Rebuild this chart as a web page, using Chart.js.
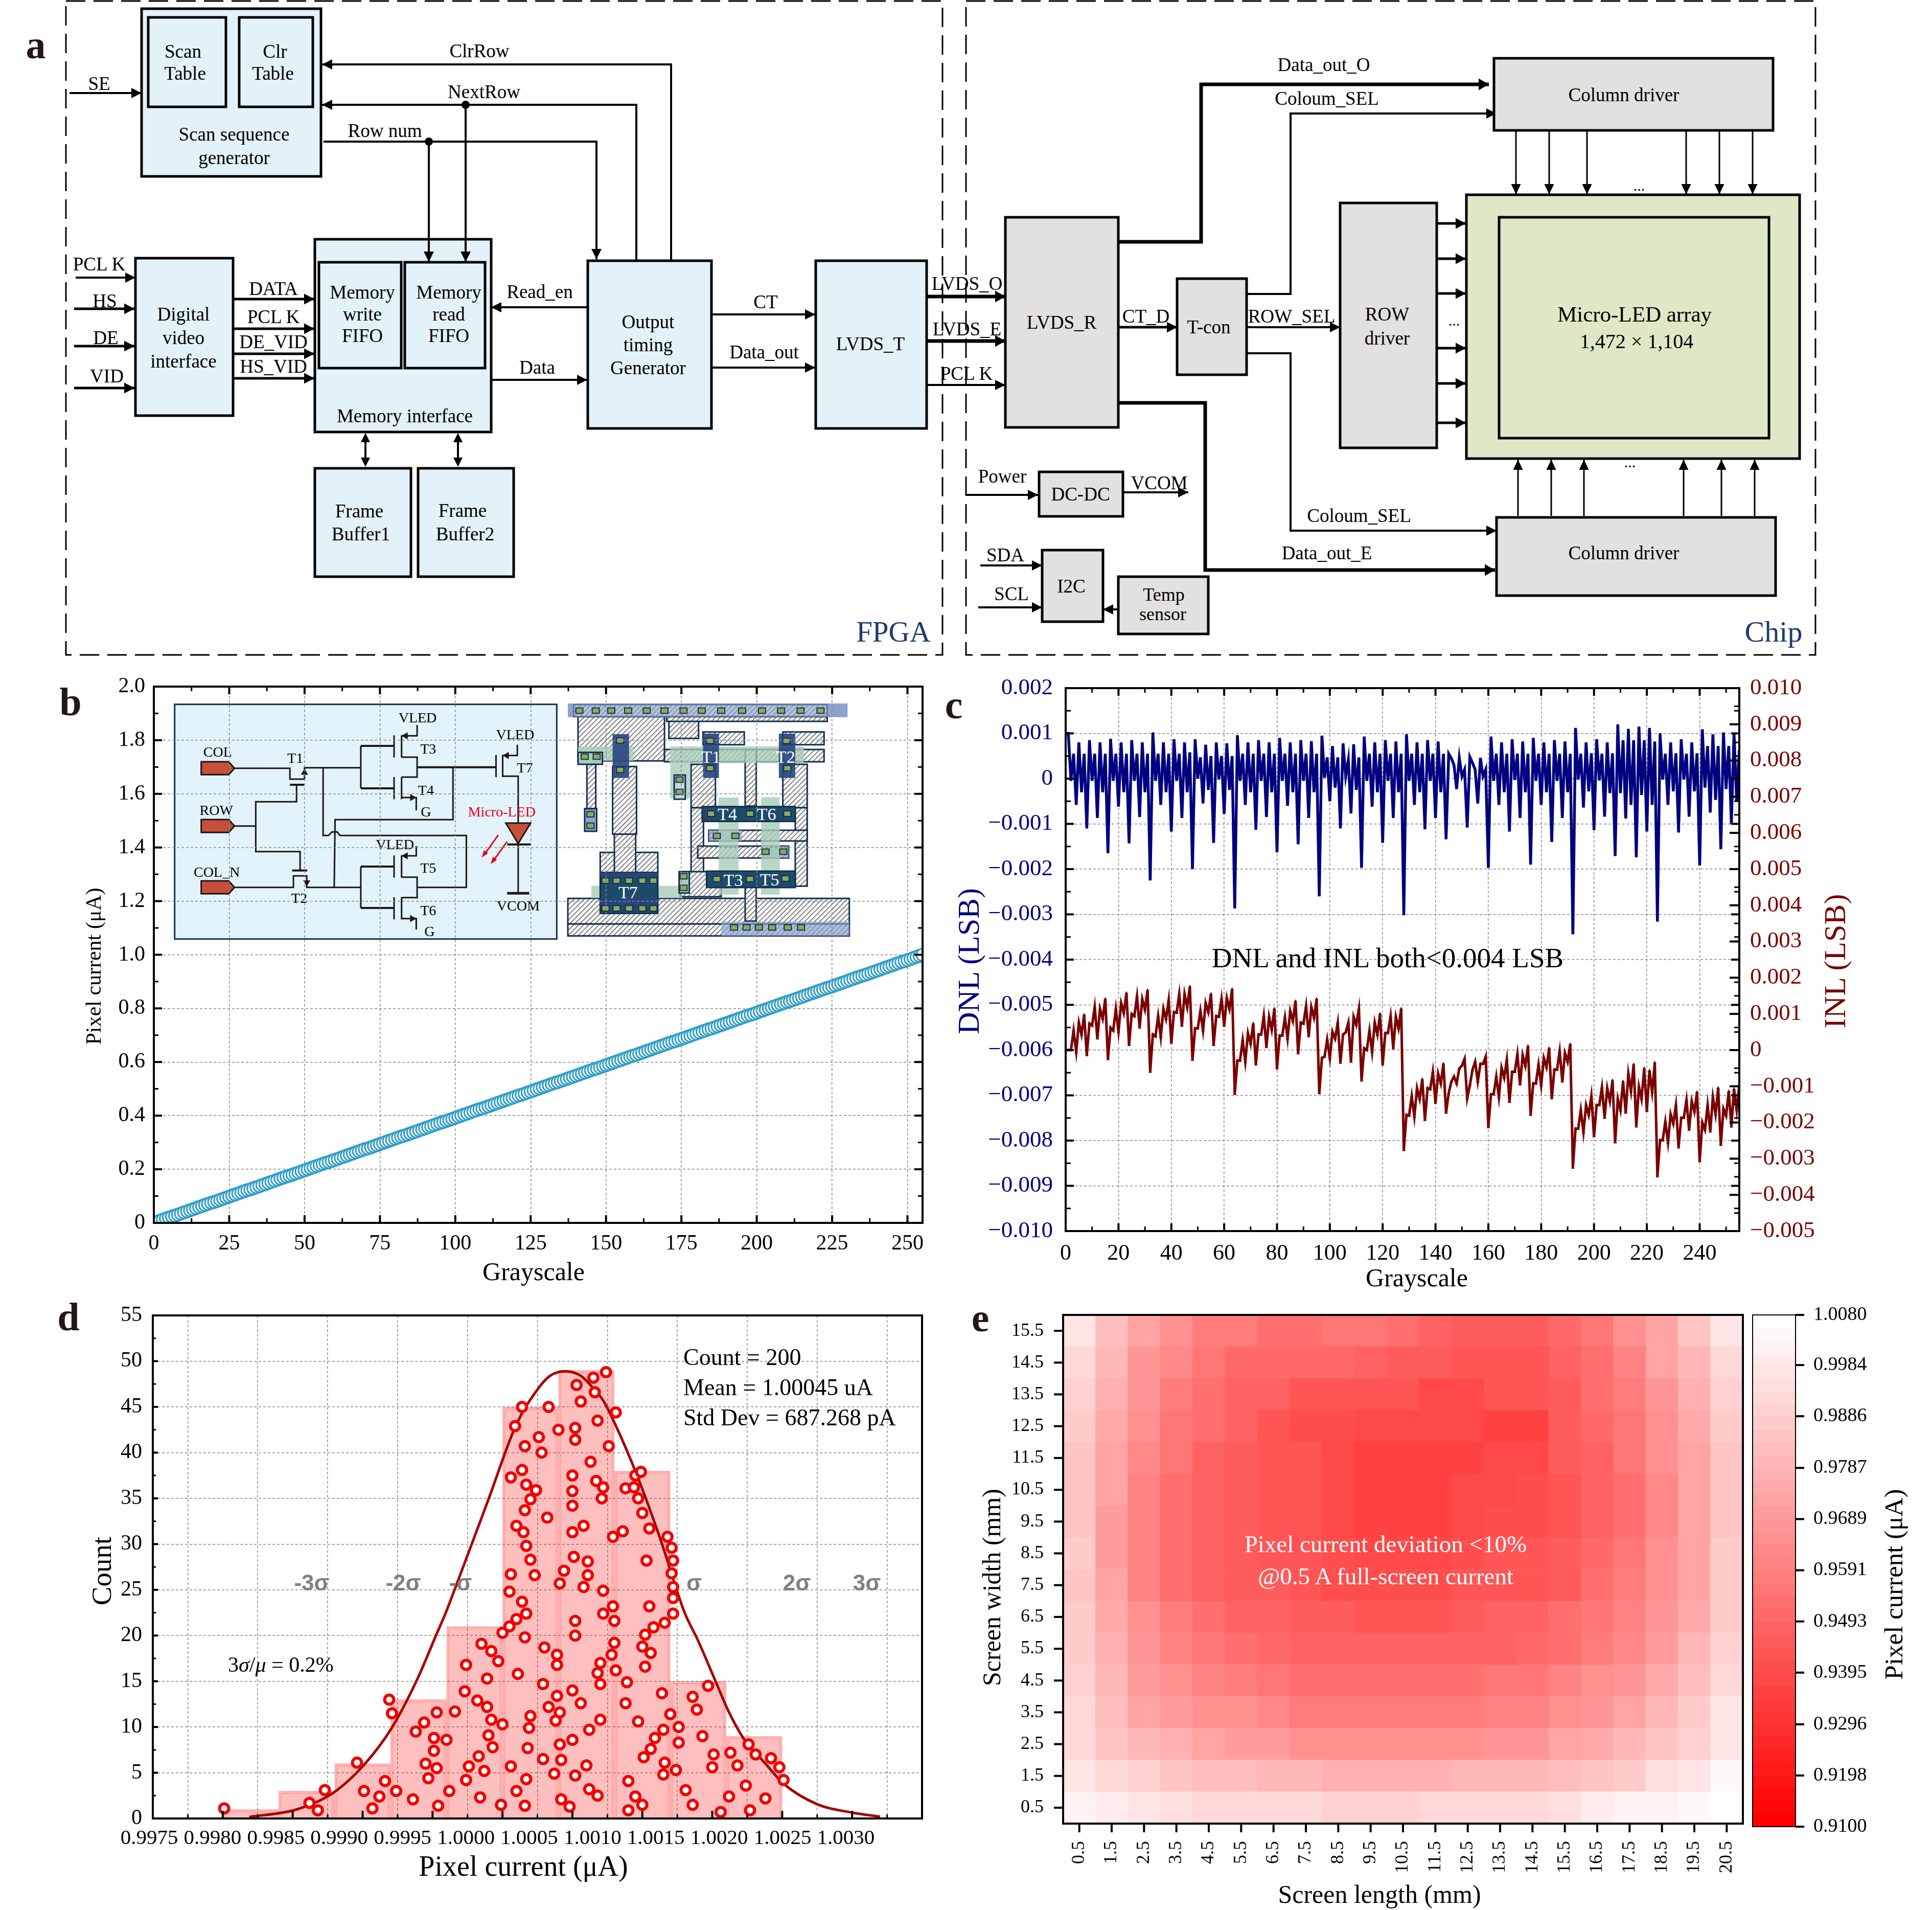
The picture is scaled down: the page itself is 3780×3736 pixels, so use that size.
<!DOCTYPE html>
<html>
<head>
<meta charset="utf-8">
<title>Micro-LED driver figure</title>
<script src="https://cdn.jsdelivr.net/npm/chart.js@4"></script>
<style>
  html, body { margin: 0; padding: 0; background: #fff; }
  #page { position: relative; width: 3780px; height: 3736px; overflow: hidden; background: #fff; }
  #page svg, #page canvas { position: absolute; left: 0; top: 0; }
</style>
</head>
<body>
<div id="page">
  <svg id="back" width="3780" height="3736"></svg>
  <canvas id="chartB"></canvas>
  <canvas id="chartC"></canvas>
  <canvas id="chartD"></canvas>
  <canvas id="chartE"></canvas>
  <canvas id="chartBar"></canvas>
  <svg id="front" width="3780" height="3736"></svg>
</div>
<script>
// panel b
const bXTicks = [0, 25, 50, 75, 100, 125, 150, 175, 200, 225, 250];
const bYTicks = [0, 0.2, 0.4, 0.6, 0.8, 1.0, 1.2, 1.4, 1.6, 1.8, 2.0];
const bYLabels = ['0', '0.2', '0.4', '0.6', '0.8', '1.0', '1.2', '1.4', '1.6', '1.8', '2.0'];
const pixelCurrent = [
  0, .004, .008, .012, .016, .020, .024, .027, .031, .035, .039, .043, .047, .051, .055, .059, .063, .067, .071, .075, .078, .082, .086, .090, .094,
  .098, .102, .106, .110, .114, .118, .122, .125, .129, .133, .137, .141, .145, .149, .153, .157, .161, .165, .169, .173, .176, .180, .184, .188, .192,
  .196, .200, .204, .208, .212, .216, .220, .224, .227, .231, .235, .239, .243, .247, .251, .255, .259, .263, .267, .271, .275, .278, .282, .286, .290,
  .294, .298, .302, .306, .310, .314, .318, .322, .325, .329, .333, .337, .341, .345, .349, .353, .357, .361, .365, .369, .373, .376, .380, .384, .388,
  .392, .396, .400, .404, .408, .412, .416, .420, .424, .427, .431, .435, .439, .443, .447, .451, .455, .459, .463, .467, .471, .475, .478, .482, .486,
  .490, .494, .498, .502, .506, .510, .514, .518, .522, .525, .529, .533, .537, .541, .545, .549, .553, .557, .561, .565, .569, .573, .576, .580, .584,
  .588, .592, .596, .600, .604, .608, .612, .616, .620, .624, .627, .631, .635, .639, .643, .647, .651, .655, .659, .663, .667, .671, .675, .678, .682,
  .686, .690, .694, .698, .702, .706, .710, .714, .718, .722, .725, .729, .733, .737, .741, .745, .749, .753, .757, .761, .765, .769, .773, .776, .780,
  .784, .788, .792, .796, .800, .804, .808, .812, .816, .820, .824, .827, .831, .835, .839, .843, .847, .851, .855, .859, .863, .867, .871, .875, .878,
  .882, .886, .890, .894, .898, .902, .906, .910, .914, .918, .922, .925, .929, .933, .937, .941, .945, .949, .953, .957, .961, .965, .969, .973, .976,
  .980, .984, .988, .992, .996, 1.0
];

// panel c, values in 0.001 LSB
const cXTicks = [0, 20, 40, 60, 80, 100, 120, 140, 160, 180, 200, 220, 240];
const dnlTicks = [-.010, -.009, -.008, -.007, -.006, -.005, -.004, -.003, -.002, -.001, 0, .001, .002];
const dnlLabels = ['\u22120.010', '\u22120.009', '\u22120.008', '\u22120.007', '\u22120.006', '\u22120.005', '\u22120.004', '\u22120.003', '\u22120.002', '\u22120.001', '0', '0.001', '0.002'];
const inlTicks = [-.005, -.004, -.003, -.002, -.001, 0, .001, .002, .003, .004, .005, .006, .007, .008, .009, .010];
const inlLabels = ['\u22120.005', '\u22120.004', '\u22120.003', '\u22120.002', '\u22120.001', '0', '0.001', '0.002', '0.003', '0.004', '0.005', '0.006', '0.007', '0.008', '0.009', '0.010'];
const dnlMilli = [
  1.0, 1.0, -.05, .55, -.58, .8, -.3, .55,
  -1.1, .85, -.05, .55, -.87, .8, -.3, .55,
  -1.65, .88, -.05, .55, -.62, .8, -.3, .55,
  -1.43, .85, -.05, .55, -.85, .8, -.3, .55,
  -2.25, 1.02, -.05, .55, -.58, .8, -.3, .55,
  -1.17, .87, -.05, .55, -.87, .8, -.3, .58,
  -2.0, .87, 0, .47, -.55, .75, -.25, .5,
  -1.42, .8, -.02, .5, -.78, .78, -.25, .5,
  -2.87, .96, -.05, .55, -.58, .8, -.3, .55,
  -1.13, .85, -.05, .55, -.85, .8, -.3, .55,
  -1.63, .9, -.05, .55, -.6, .8, -.3, .55,
  -1.45, .85, -.05, .55, -.87, .83, -.3, .55,
  -2.6, .95, .02, .47, -.5, .72, -.2, .47,
  -1.1, .78, .05, .42, -.77, .76, -.25, .47,
  -1.97, .93, -.05, .55, -.62, .8, -.3, .55,
  -1.42, .85, -.05, .55, -.87, .82, -.3, .55,
  -3.02, .98, -.05, .55, -.58, .8, -.3, .55,
  -1.12, .85, -.05, .55, -.87, .82, -.3, .55,
  -1.34, .55, .45, .3, -.23, .46, .05, .2,
  -1.08, .48, .35, .2, -.55, .46, .05, .2,
  -1.97, .93, -.05, .55, -.58, .8, -.3, .55,
  -1.17, .87, -.03, .55, -.87, .82, -.3, .55,
  -1.9, .9, -.05, .55, -.58, .8, -.3, .55,
  -1.4, .85, -.05, .55, -.87, .82, -.3, .55,
  -3.44, 1.12, -.02, .55, -.64, .8, -.28, .56,
  -1.14, .87, -.04, .55, -.84, .8, -.32, .56,
  -1.71, 1.2, -.32, .85, -.88, 1.1, -.58, .85,
  -1.74, 1.15, -.36, .85, -1.17, 1.12, -.58, .82,
  -3.16, 1.0, -.02, .55, -.58, .8, -.28, .56,
  -1.19, .87, -.02, .55, -.84, .8, -.28, .56,
  -1.92, 1.09, -.2, .72, -.75, .98, -.47, .72,
  -1.56, 1.02, -.23, .72, -1.0, 1.0, -.49, .63
];
const inlMilli = [
  0, 0, 0, .54, -.05, .76, .43, .97,
  -.14, .73, .68, 1.19, .32, 1.14, .87, 1.41,
  -.25, .62, .54, 1.14, .51, 1.3, 1.03, 1.57,
  .14, 1.0, .94, 1.48, .62, 1.41, 1.12, 1.65,
  -.6, .43, .38, .94, .36, 1.14, .86, 1.38,
  .2, 1.05, 1.03, 1.55, .67, 1.55, 1.19, 1.75,
  -.27, .6, .6, 1.08, .54, 1.3, 1.05, 1.55,
  .14, .94, .92, 1.41, .67, 1.44, 1.14, 1.68,
  -1.21, -.29, -.29, .27, -.32, .47, .18, .73,
  -.4, .43, .43, .94, .08, .92, .56, 1.14,
  -.51, .4, .4, .9, .32, 1.08, .81, 1.35,
  -.09, .76, .73, 1.22, .38, 1.19, .9, 1.41,
  -1.19, -.22, -.18, .29, -.22, .51, .32, .76,
  -.35, .43, .49, .76, -.32, .92, .7, 1.14,
  -.84, .05, 0, .54, -.05, .76, .43, 1.0,
  -.4, .47, .47, .94, .05, .92, .6, 1.14,
  -2.76, -1.79, -1.81, -1.27, -1.84, -1.05, -1.35, -.81,
  -1.93, -1.05, -1.08, -.6, -1.46, -.65, -.92, -.38,
  -1.73, -1.19, -.87, -.73, -.92, -.51, -.43, -.24,
  -1.33, -.97, -.54, -.32, -.87, -.38, -.38, -.18,
  -2.13, -1.22, -1.22, -.73, -1.3, -.49, -.76, -.27,
  -1.43, -.6, -.6, -.11, -.95, -.14, -.43, .11,
  -1.79, -.92, -.92, -.4, -.97, -.22, -.47, .05,
  -1.33, -.54, -.54, -.03, -.87, -.08, -.32, .16,
  -3.25, -2.17, -2.17, -1.66, -2.27, -1.52, -1.79, -1.27,
  -2.38, -1.52, -1.52, -1.03, -1.87, -1.05, -1.41, -.84,
  -2.55, -1.35, -1.66, -.87, -1.73, -.65, -1.14, -.4,
  -2.11, -1.01, -1.35, -.51, -1.68, -.57, -1.16, -.35,
  -3.49, -2.49, -2.49, -1.98, -2.55, -1.77, -2.03, -1.52,
  -2.69, -1.87, -1.87, -1.38, -2.2, -1.41, -1.7, -1.16,
  -3.07, -2.0, -2.2, -1.52, -2.25, -1.3, -1.77, -1.05,
  -2.62, -1.62, -1.81, -1.14, -2.11, -1.08, -1.66, -.97
];

// panel d
const dXTicks = [.9975, .998, .9985, .999, .9995, 1.0, 1.0005, 1.001, 1.0015, 1.002, 1.0025, 1.003];
const dXLabels = ['0.9975', '0.9980', '0.9985', '0.9990', '0.9995', '1.0000', '1.0005', '1.0010', '1.0015', '1.0020', '1.0025', '1.0030'];
const dYTicks = [0, 5, 10, 15, 20, 25, 30, 35, 40, 45, 50, 55];
const binCenters = [.9982, .9986, .999, .9994, .9998, 1.0002, 1.0006, 1.001, 1.0014, 1.0018];
const binCounts = [1, 3, 6, 13, 21, 45, 49, 38, 15, 9];
const fitX = [.99819, .99852, .99878, .99901, .99921, .99939, .99953, .9996, .99966, .9999, 1.0001, 1.00025, 1.00034, 1.00045, 1.00056, 1.00064, 1.00072, 1.0008, 1.00096, 1.00113, 1.0013, 1.0014, 1.00151, 1.00162, 1.00173, 1.00188, 1.00201, 1.00225, 1.0025, 1.0027];
const fitY = [.17, .95, 2.7, 5.86, 9.94, 15.2, 20.2, 22.7, 25.1, 34.9, 43.1, 46.9, 48.4, 48.9, 48.4, 47.2, 45.7, 43.3, 37.6, 30.5, 22.6, 19.4, 15.5, 11.6, 8.6, 6.0, 3.8, 1.56, .64, .2];
const dotX = [
  .99801, .99862, .99868, .99873, .99896, .99901, .99907, .99912, .99916, .99919, .99921, .99924, .99936, .99938, .99944, .99945, .99947, .99951, .99951, .99953, .99953, .99954, .9996, .99962, .99966,
  .99973, .99974, .99974, .99976, .99982, .99983, .99984, .99985, .99987, .99989, .99989, .9999, .99992, .99992, .99993, .99997, .99999, 1.0, 1.0,
  1.00005, 1.00006, 1.00006, 1.00005, 1.00006, 1.00009, 1.0001, 1.0001, 1.0001, 1.00011, 1.00014, 1.00014, 1.00014, 1.00015, 1.00016, 1.00016, 1.00016, 1.00016, 1.00017, 1.00017, 1.00017, 1.00017, 1.00018, 1.00019, 1.0002, 1.0002, 1.0002, 1.00023, 1.00024, 1.00026, 1.00028, 1.00029, 1.00029, 1.0003, 1.00032, 1.00033, 1.00033, 1.00037, 1.00038, 1.00039, 1.00039, 1.00039, 1.0004, 1.00041, 1.00041, 1.00041, 1.00042, 1.00042, 1.00044,
  1.00048, 1.0005, 1.0005, 1.0005, 1.0005, 1.0005, 1.0005, 1.00051, 1.00052, 1.00052, 1.00052, 1.00052, 1.00052, 1.00053, 1.00056, 1.00056, 1.00058, 1.00058, 1.0006, 1.00061, 1.00061, 1.00062, 1.00062, 1.00063, 1.00065, 1.00066, 1.00067, 1.00068, 1.00068, 1.00068, 1.0007, 1.0007, 1.0007, 1.00071, 1.00072, 1.00072, 1.00072, 1.00074, 1.00076, 1.00078, 1.00079, 1.00079, 1.0008, 1.0008, 1.00081, 1.00081,
  1.00086, 1.00088, 1.00088, 1.00089, 1.0009, 1.0009, 1.00094, 1.00095, 1.00095, 1.00097, 1.00097, 1.00099, 1.001, 1.001, 1.001, 1.00101, 1.00102, 1.00102, 1.00103, 1.00105, 1.00105, 1.00106, 1.00106, 1.00108, 1.00109, 1.00114, 1.00115, 1.00115, 1.00116, 1.00116, 1.00118, 1.0012, 1.00121, 1.00121, 1.00122, 1.00122, 1.00122, 1.00122, 1.00124, 1.00126, 1.00126, 1.00131, 1.00136, 1.00136, 1.00139, 1.00143, 1.00147, 1.0015, 1.00151, 1.00156, 1.00162, 1.00163, 1.00168, 1.00174, 1.00176, 1.00177, 1.00181, 1.00188, 1.00192, 1.00198, 1.00201
];
const dotY = [
  1.1, 1.7, .9, 3.1, 6.1, 3.0, 1.1, 2.4, 4.1, 13.0, 11.5, 3.0, 2.1, 9.5, 10.5, 6.0, 4.4, 8.8, 7.4, 11.6, 5.5, 1.4, 8.6, 3.0, 11.7,
  13.9, 16.8, 4.2, 5.7, 12.9, 6.8, 2.3, 19.1, 5.2, 15.3, 12.2, 9.1, 18.3, 10.8, 7.8, 17.2, 1.5, 10.3, 20.3,
  21.0, 37.3, 26.7, 24.8, 5.7, 42.9, 32.0, 21.8, 3.0, 15.8, 45.0, 38.1, 23.7, 31.3, 40.7, 33.7, 19.8, 1.4, 36.5, 29.8, 22.4, 4.3, 7.7, 9.9, 34.9, 28.3, 11.2, 26.6, 35.9, 41.7, 40.0, 14.7, 6.5, 18.7, 32.9, 45.0, 12.2, 4.9, 10.7, 16.8, 13.4, 17.9, 42.5, 11.6, 25.7, 8.1, 2.1, 6.4, 27.1,
  1.3, 37.5, 35.8, 34.2, 31.3, 14.0, 8.6, 28.6, 21.6, 20.0, 4.7, 42.7, 41.4, 47.4, 45.6, 12.6, 32.0, 25.3, 5.8, 28.1, 26.6, 3.2, 9.7, 39.0, 48.2, 46.6, 36.9, 43.5, 15.9, 2.5, 17.0, 14.7, 10.8, 35.0, 22.4, 36.2, 24.9, 48.8, 40.7, 17.9, 30.8, 23.2, 21.6, 19.2, 16.2, 44.4,
  31.4, 36.1, 12.6, 14.9, 4.1, .9, 36.2, 37.5, 2.4, 10.6, 35.0, 37.9, 33.4, 18.8, 1.5, 6.7, 20.1, 16.6, 28.2, 31.7, 23.2, 7.6, 18.1, 20.9, 8.8, 13.7, 9.7, 4.8, 21.4, 6.1, 30.8, 11.4, 29.6, 26.8, 28.2, 24.1, 25.3, 22.4, 5.3, 10.0, 8.3, 3.1, 13.3, 1.5, 11.9, 9.0, 14.5, 5.6, 7.0, .7, 2.4, 7.2, 5.8, 3.6, 8.1, .9, 7.0, 2.2, 6.6, 5.6, 4.2
];

// panel e, rows listed from 15.5 mm down to 0.5 mm
const lengthLabels = ['0.5', '1.5', '2.5', '3.5', '4.5', '5.5', '6.5', '7.5', '8.5', '9.5', '10.5', '11.5', '12.5', '13.5', '14.5', '15.5', '16.5', '17.5', '18.5', '19.5', '20.5'];
const widthTicks = [.5, 1.5, 2.5, 3.5, 4.5, 5.5, 6.5, 7.5, 8.5, 9.5, 10.5, 11.5, 12.5, 13.5, 14.5, 15.5];
const heatValues = [
  [.996, .983, .972, .964, .958, .958, .954, .952, .956, .956, .954, .948, .946, .945, .945, .950, .956, .964, .973, .985, .998],
  [.993, .979, .968, .962, .956, .950, .950, .950, .950, .947, .945, .945, .942, .942, .942, .948, .952, .960, .972, .979, .993],
  [.990, .977, .968, .958, .954, .949, .947, .944, .944, .942, .942, .938, .938, .942, .942, .945, .952, .958, .968, .977, .990],
  [.988, .975, .964, .956, .952, .949, .944, .940, .940, .938, .938, .938, .938, .936, .936, .945, .950, .956, .966, .975, .988],
  [.985, .972, .962, .956, .949, .945, .944, .942, .938, .936, .936, .936, .936, .938, .938, .945, .948, .956, .964, .973, .985],
  [.984, .972, .960, .954, .949, .945, .944, .942, .938, .936, .936, .936, .938, .938, .940, .944, .949, .954, .962, .972, .985],
  [.984, .970, .960, .954, .947, .945, .944, .942, .938, .935, .935, .935, .938, .940, .940, .944, .949, .954, .962, .972, .984],
  [.986, .970, .960, .954, .949, .945, .944, .942, .940, .938, .938, .938, .940, .942, .942, .945, .950, .956, .964, .973, .986],
  [.985, .973, .960, .954, .949, .945, .945, .942, .940, .940, .940, .940, .942, .944, .944, .945, .952, .958, .966, .973, .986],
  [.986, .974, .964, .958, .952, .947, .947, .945, .945, .942, .942, .942, .945, .948, .948, .952, .955, .960, .968, .975, .988],
  [.987, .977, .968, .960, .956, .952, .950, .949, .949, .949, .949, .949, .949, .949, .951, .954, .958, .962, .970, .979, .990],
  [.990, .979, .970, .964, .960, .958, .956, .954, .952, .952, .952, .952, .954, .956, .956, .960, .964, .968, .975, .983, .993],
  [.992, .982, .973, .970, .966, .964, .962, .958, .958, .958, .958, .958, .958, .960, .960, .964, .968, .973, .979, .987, .996],
  [.993, .985, .979, .977, .972, .970, .970, .966, .966, .966, .966, .966, .966, .968, .968, .973, .974, .980, .985, .990, .998],
  [.996, .992, .989, .985, .982, .982, .979, .979, .977, .977, .977, .977, .979, .979, .979, .983, .985, .988, .994, .998, 1.004],
  [1.003, 1.000, .996, .995, .992, .992, .991, .991, .989, .989, .989, .991, .991, .991, .991, .994, .999, 1.001, 1.003, 1.005, 1.008]
];
const barTicks = [.91, .9198, .9296, .9395, .9493, .9591, .9689, .9787, .9886, .9984, 1.008];
const barLabels = ['0.9100', '0.9198', '0.9296', '0.9395', '0.9493', '0.9591', '0.9689', '0.9787', '0.9886', '0.9984', '1.0080'];

const SERIF = '"Liberation Serif"';
Chart.defaults.font.family = SERIF;
Chart.defaults.color = '#000';
Chart.defaults.animation = false;

function seq(a, b, step) {
  const out = [];
  for (let v = a; v <= b + step / 1000; v += step) out.push(v);
  return out;
}

function fixTicks(values) {
  return scale => { scale.ticks = values.map(value => ({ value })); };
}

// draws the box round the plot and the tick marks; positive length points into the plot
const framePlugin = {
  id: 'frame',
  afterDraw(chart, args, o) {
    const { ctx, chartArea: a } = chart;
    ctx.save();
    ctx.strokeStyle = '#000';
    (o.marks || []).forEach(m => {
      const scale = chart.scales[m.scale];
      const one = (v, len) => {
        const p = scale.getPixelForValue(v);
        ctx.beginPath();
        if (m.at === 'left') { ctx.moveTo(a.left, p); ctx.lineTo(a.left + len, p); }
        if (m.at === 'right') { ctx.moveTo(a.right, p); ctx.lineTo(a.right - len, p); }
        if (m.at === 'top') { ctx.moveTo(p, a.top); ctx.lineTo(p, a.top + len); }
        if (m.at === 'bottom') { ctx.moveTo(p, a.bottom); ctx.lineTo(p, a.bottom - len); }
        ctx.stroke();
      };
      ctx.lineWidth = 4;
      m.major.forEach(v => one(v, m.big));
      ctx.lineWidth = 3;
      (m.minor || []).forEach(v => one(v, m.small));
    });
    ctx.lineWidth = o.width || 4;
    ctx.strokeRect(a.left, a.top, a.right - a.left, a.bottom - a.top);
    ctx.restore();
  }
};

function placeCanvas(id, box, pad) {
  const c = document.getElementById(id);
  c.width = box.r - box.l + pad.l + pad.r;
  c.height = box.b - box.t + pad.t + pad.b;
  c.style.left = (box.l - pad.l) + 'px';
  c.style.top = (box.t - pad.t) + 'px';
  return c;
}

const dashGrid = { color: '#8a8a8a', lineWidth: 1.5, drawTicks: false };
const dashBorder = { display: false, dash: [5, 4] };

function initChartB() {
  const pad = { l: 200, r: 70, t: 70, b: 80 };
  const c = placeCanvas('chartB', { l: 301, r: 1805, t: 1343, b: 2392 }, pad);
  new Chart(c, {
    type: 'scatter',
    data: { datasets: [{
      data: pixelCurrent.map((y, x) => ({ x, y })),
      pointStyle: 'circle', pointRadius: 12, pointBorderWidth: 3,
      pointBorderColor: '#2F9DC6', pointBackgroundColor: '#ffffff'
    }] },
    plugins: [framePlugin],
    options: {
      responsive: false,
      layout: { padding: { top: pad.t, right: pad.r } },
      plugins: {
        legend: { display: false }, tooltip: { enabled: false },
        frame: { marks: [
          { scale: 'x', at: 'bottom', major: bXTicks, minor: seq(12.5, 255, 25), big: 15, small: 9 },
          { scale: 'x', at: 'top', major: bXTicks, minor: seq(12.5, 255, 25), big: 15, small: 9 },
          { scale: 'y', at: 'left', major: bYTicks, minor: seq(.1, 2, .2), big: 16, small: 9 },
          { scale: 'y', at: 'right', major: bYTicks, minor: seq(.1, 2, .2), big: 16, small: 9 }
        ] }
      },
      scales: {
        x: {
          type: 'linear', min: 0, max: 255, afterBuildTicks: fixTicks(bXTicks),
          afterFit: s => { s.height = pad.b; },
          grid: dashGrid, border: dashBorder,
          ticks: { autoSkip: false, maxRotation: 0, padding: 16, font: { size: 42 }, callback: v => String(v) }
        },
        y: {
          min: 0, max: 2, afterBuildTicks: fixTicks(bYTicks),
          afterFit: s => { s.width = pad.l; },
          grid: dashGrid, border: dashBorder,
          ticks: { autoSkip: false, padding: 17, font: { size: 42 }, callback: (v, i) => bYLabels[i] }
        }
      }
    }
  });
}

function initChartC() {
  const pad = { l: 200, r: 200, t: 70, b: 80 };
  const c = placeCanvas('chartC', { l: 2085, r: 3403, t: 1346, b: 2408 }, pad);
  new Chart(c, {
    type: 'line',
    data: { datasets: [
      {
        label: 'DNL', yAxisID: 'y', data: dnlMilli.map((v, x) => ({ x, y: v / 1000 })),
        borderColor: '#000080', borderWidth: 5.5, pointRadius: 0, tension: 0
      },
      {
        label: 'INL', yAxisID: 'y2', data: inlMilli.map((v, x) => ({ x, y: v / 1000 })),
        borderColor: '#7A0000', borderWidth: 5, tension: 0,
        pointStyle: 'triangle', pointRadius: 4, pointBorderWidth: 0, pointBackgroundColor: '#7A0000'
      }
    ] },
    plugins: [framePlugin],
    options: {
      responsive: false,
      layout: { padding: { top: pad.t } },
      plugins: {
        legend: { display: false }, tooltip: { enabled: false },
        frame: { marks: [
          { scale: 'x', at: 'bottom', major: cXTicks, minor: seq(10, 255, 20), big: 15, small: 9 },
          { scale: 'x', at: 'top', major: cXTicks, minor: seq(10, 255, 20), big: 15, small: 9 },
          { scale: 'y', at: 'left', major: dnlTicks, minor: seq(-.0095, .002, .001), big: 16, small: 10 },
          { scale: 'y', at: 'right', major: dnlTicks, minor: seq(-.0095, .002, .001), big: 16, small: 10 },
          { scale: 'y2', at: 'right', major: inlTicks, minor: seq(-.0045, .01, .001), big: 19, small: 10 }
        ] }
      },
      scales: {
        x: {
          type: 'linear', min: 0, max: 255, afterBuildTicks: fixTicks(cXTicks),
          afterFit: s => { s.height = pad.b; },
          grid: dashGrid, border: dashBorder,
          ticks: { autoSkip: false, maxRotation: 0, padding: 18, font: { size: 44 }, callback: v => String(v) }
        },
        y: {
          position: 'left', min: -.01, max: .002, afterBuildTicks: fixTicks(dnlTicks),
          afterFit: s => { s.width = pad.l; },
          grid: dashGrid, border: dashBorder,
          ticks: { autoSkip: false, padding: 25, color: '#000080', font: { size: 45 }, callback: (v, i) => dnlLabels[i] }
        },
        y2: {
          position: 'right', min: -.005, max: .01, afterBuildTicks: fixTicks(inlTicks),
          afterFit: s => { s.width = pad.r; },
          grid: { display: false, drawTicks: false }, border: { display: false },
          ticks: { autoSkip: false, padding: 21, color: '#7A0000', font: { size: 45 }, callback: (v, i) => inlLabels[i] }
        }
      }
    }
  });
}

function initChartD() {
  const pad = { l: 160, r: 30, t: 70, b: 70 };
  const c = placeCanvas('chartD', { l: 299, r: 1804, t: 2573, b: 3557 }, pad);
  new Chart(c, {
    type: 'bar',
    data: { datasets: [
      {
        type: 'scatter', order: 1, data: dotX.map((x, i) => ({ x, y: dotY[i] })),
        pointStyle: 'circle', pointRadius: 9, pointBorderWidth: 6,
        pointBorderColor: '#F10000', pointBackgroundColor: '#ffffff', clip: false
      },
      {
        type: 'line', order: 2, data: fitX.map((x, i) => ({ x, y: fitY[i] })),
        borderColor: '#A80000', borderWidth: 5, pointRadius: 0, cubicInterpolationMode: 'monotone', clip: false
      },
      {
        type: 'bar', order: 3, data: binCenters.map((x, i) => ({ x, y: binCounts[i] })),
        backgroundColor: 'rgba(255,0,0,0.25)', borderColor: 'rgba(255,0,0,0.3)', borderWidth: 5,
        barPercentage: 1, categoryPercentage: 1
      }
    ] },
    plugins: [framePlugin],
    options: {
      responsive: false,
      layout: { padding: { top: pad.t, right: pad.r } },
      plugins: {
        legend: { display: false }, tooltip: { enabled: false },
        frame: { marks: [
          { scale: 'x', at: 'bottom', major: dXTicks, minor: seq(.99775, 1.003, .0005), big: 15, small: 8 },
          { scale: 'y', at: 'left', major: dYTicks, minor: seq(2.5, 55, 5), big: 10, small: 6 }
        ] }
      },
      scales: {
        x: {
          type: 'linear', min: .9975, max: 1.003, offset: false, afterBuildTicks: fixTicks(dXTicks),
          afterFit: s => { s.height = pad.b; },
          grid: dashGrid, border: dashBorder,
          ticks: { display: false }
        },
        y: {
          min: 0, max: 55, afterBuildTicks: fixTicks(dYTicks),
          afterFit: s => { s.width = pad.l; },
          grid: dashGrid, border: dashBorder,
          ticks: { autoSkip: false, padding: 21, font: { size: 42 }, callback: v => String(v) }
        }
      }
    }
  });
}

// colour scale is stepped, 40 bands from red to white
const heatMin = barTicks[0];
const heatMax = barTicks[barTicks.length - 1];
const heatBands = 40;
function heatColor(v) {
  const band = Math.min(heatBands - 1, Math.max(0, Math.floor((v - heatMin) / (heatMax - heatMin) * heatBands)));
  const g = Math.round(band / (heatBands - 1) * 255);
  return `rgb(255,${g},${g})`;
}

function initChartE() {
  const pad = { l: 200, r: 70, t: 70, b: 130 };
  const c = placeCanvas('chartE', { l: 2080, r: 3410, t: 2572, b: 3567 }, pad);
  const rows = heatValues.slice().reverse();
  new Chart(c, {
    type: 'bar',
    data: {
      labels: lengthLabels,
      datasets: rows.map(row => ({
        data: row.map(() => 1),
        backgroundColor: row.map(heatColor),
        borderWidth: 0, barPercentage: 1, categoryPercentage: 1
      }))
    },
    plugins: [framePlugin],
    options: {
      responsive: false,
      layout: { padding: { top: pad.t, right: pad.r } },
      plugins: {
        legend: { display: false }, tooltip: { enabled: false },
        frame: { marks: [
          { scale: 'x', at: 'bottom', major: lengthLabels.map((s, i) => i), big: -17 },
          { scale: 'y', at: 'left', major: widthTicks, big: -18 }
        ] }
      },
      scales: {
        x: {
          stacked: true,
          afterFit: s => { s.height = pad.b; },
          grid: { display: false, drawTicks: false }, border: { display: false },
          ticks: { autoSkip: false, minRotation: 90, maxRotation: 90, padding: 34, font: { size: 36 } }
        },
        y: {
          stacked: true, min: 0, max: 16, afterBuildTicks: fixTicks(widthTicks),
          afterFit: s => { s.width = pad.l; },
          grid: { display: false, drawTicks: false }, border: { display: false },
          ticks: { autoSkip: false, padding: 38, font: { size: 36 }, callback: v => String(v) }
        }
      }
    }
  });
}

function initColorBar() {
  const pad = { l: 5, r: 200, t: 70, b: 70 };
  const c = placeCanvas('chartBar', { l: 3429, r: 3513, t: 2572, b: 3573 }, pad);
  const step = (heatMax - heatMin) / heatBands;
  const bands = [];
  for (let i = 0; i < heatBands; i++) bands.push(heatMin + i * step);
  new Chart(c, {
    type: 'bar',
    data: {
      labels: [''],
      datasets: bands.map(lo => ({
        data: [[lo, lo + step]],
        backgroundColor: heatColor(lo + step / 2),
        borderWidth: 0, barPercentage: 1, categoryPercentage: 1, grouped: false
      }))
    },
    plugins: [framePlugin],
    options: {
      responsive: false,
      layout: { padding: { top: pad.t, left: pad.l, bottom: pad.b } },
      plugins: {
        legend: { display: false }, tooltip: { enabled: false },
        frame: { width: 2, marks: [{ scale: 'y', at: 'right', major: barTicks, big: -17 }] }
      },
      scales: {
        x: { display: false },
        y: {
          position: 'right', min: heatMin, max: heatMax, afterBuildTicks: fixTicks(barTicks),
          afterFit: s => { s.width = pad.r; },
          grid: { display: false, drawTicks: false }, border: { display: false },
          ticks: { autoSkip: false, padding: 35, font: { size: 38 }, callback: (v, i) => barLabels[i] }
        }
      }
    }
  });
}

// svg helpers for the block diagram, the inset and the free text
let backSvg = '';
let frontSvg = '';

function label(x, y, s, size, extra) {
  return `<text x="${x}" y="${y}" font-family='${SERIF}' font-size="${size}" text-anchor="middle" dominant-baseline="central" ${extra || ''}>${s}</text>`;
}
function t(x, y, s, size, extra) { backSvg += label(x, y, s, size || 37, extra); }
function ft(x, y, s, size, extra) { frontSvg += label(x, y, s, size, extra); }

function box(x1, y1, x2, y2, fill, sw) {
  backSvg += `<rect x="${x1}" y="${y1}" width="${x2 - x1}" height="${y2 - y1}" fill="${fill}" stroke="#000" stroke-width="${sw || 5}"/>`;
}
function line(pts, sw, color) {
  backSvg += `<polyline points="${pts.map(p => p.join(',')).join(' ')}" fill="none" stroke="${color || '#000'}" stroke-width="${sw || 4}"/>`;
}
function head(from, to, len, hw, color) {
  const dx = to[0] - from[0], dy = to[1] - from[1], d = Math.hypot(dx, dy), ux = dx / d, uy = dy / d;
  const bx = to[0] - ux * len, by = to[1] - uy * len;
  backSvg += `<polygon points="${to[0]},${to[1]} ${bx - uy * hw},${by + ux * hw} ${bx + uy * hw},${by - ux * hw}" fill="${color || '#000'}"/>`;
}
function arrow(pts, sw) {
  const n = pts.length, w = sw || 4;
  line(pts, w);
  head(pts[n - 2], pts[n - 1], 20, 8 + w / 2);
}
function dot(x, y) { backSvg += `<circle cx="${x}" cy="${y}" r="8" fill="#000"/>`; }

function drawBlockDiagram() {
  const blue = '#E3F2F8', gray = '#E2E1DF', green = '#DFE8C6';
  backSvg += `<rect x="129" y="2" width="1715" height="1279" fill="none" stroke="#000" stroke-width="3" stroke-dasharray="38 16"/>`;
  backSvg += `<rect x="1890" y="2" width="1662" height="1279" fill="none" stroke="#000" stroke-width="3" stroke-dasharray="38 16"/>`;

  box(277, 17, 628, 345, blue); box(290, 34, 442, 209, blue); box(468, 34, 612, 209, blue);
  t(358, 100, 'Scan'); t(362, 143, 'Table'); t(538, 100, 'Clr'); t(534, 143, 'Table');
  t(458, 262, 'Scan sequence'); t(458, 308, 'generator');
  arrow([[136, 182], [277, 182]]); t(194, 163, 'SE');

  box(265, 505, 456, 813, blue);
  t(359, 614, 'Digital'); t(359, 660, 'video'); t(359, 706, 'interface');
  arrow([[148, 543], [265, 543]]); t(194, 516, 'PCL K');
  arrow([[145, 604], [263, 604]], 5); t(205, 588, 'HS');
  arrow([[145, 677], [263, 677]], 5); t(207, 660, 'DE');
  arrow([[145, 759], [263, 759]], 5); t(209, 735, 'VID');
  [[585, 'DATA', 564], [643, 'PCL K', 619], [692, 'DE_VID', 668], [740, 'HS_VID', 716]].forEach(a => {
    arrow([[456, a[0]], [615, a[0]]], 5); t(535, a[2], a[1]);
  });

  box(616, 468, 961, 845, blue); box(624, 513, 785, 720, blue); box(792, 513, 949, 720, blue);
  t(792, 813, 'Memory interface');
  t(709, 571, 'Memory'); t(709, 614, 'write'); t(709, 656, 'FIFO');
  t(878, 571, 'Memory'); t(878, 614, 'read'); t(878, 656, 'FIFO');
  arrow([[1149, 601], [961, 601]]); t(1056, 570, 'Read_en');
  arrow([[961, 743], [1149, 743]]); t(1051, 718, 'Data');

  box(1150, 510, 1392, 838, blue);
  t(1268, 629, 'Output'); t(1268, 674, 'timing'); t(1268, 719, 'Generator');
  arrow([[1392, 615], [1595, 615]]); t(1498, 590, 'CT');
  arrow([[1392, 719], [1595, 719]]); t(1495, 688, 'Data_out');
  box(1596, 510, 1813, 838, blue); t(1703, 672, 'LVDS_T');

  arrow([[1313, 510], [1313, 126], [630, 126]]); t(938, 99, 'ClrRow');
  arrow([[1245, 510], [1245, 205], [630, 205]]); t(947, 179, 'NextRow');
  dot(911, 205); arrow([[911, 205], [911, 512]]);
  arrow([[633, 277], [1167, 277], [1167, 507]]); t(753, 255, 'Row num');
  dot(839, 277); arrow([[839, 277], [839, 512]]);

  box(616, 916, 804, 1128, blue); box(818, 916, 1005, 1128, blue);
  t(703, 999, 'Frame'); t(706, 1044, 'Buffer1'); t(905, 998, 'Frame'); t(910, 1044, 'Buffer2');
  [715, 896].forEach(x => {
    line([[x, 860], [x, 900]]);
    head([x, 880], [x, 847], 18, 9); head([x, 880], [x, 913], 18, 9);
  });
  t(1748, 1235, 'FPGA', 57, 'fill="#1F3A6E"');

  arrow([[1812, 580], [1967, 580]], 7); t(1892, 554, 'LVDS_O');
  arrow([[1812, 667], [1967, 667]], 7); t(1892, 643, 'LVDS_E');
  arrow([[1812, 753], [1967, 753]]); t(1891, 730, 'PCL K');
  box(1967, 425, 2188, 836, gray); t(2077, 630, 'LVDS_R');

  arrow([[2188, 473], [2350, 473], [2350, 165], [2913, 165]], 7); t(2590, 126, 'Data_out_O');
  arrow([[2441, 575], [2525, 575], [2525, 222], [2928, 222]]); t(2596, 192, 'Coloum_SEL');
  box(2923, 114, 3469, 255, gray); t(3177, 185, 'Column driver');
  [2966, 3031, 3105, 3299, 3364, 3429].forEach(x => arrow([[x, 255], [x, 380]], 3));
  t(3207, 362, '...', 30);

  box(2869, 381, 3521, 897, green); box(2933, 425, 3461, 857, green);
  t(3198, 614, 'Micro-LED array', 43); t(3202, 667, '1,472 × 1,104', 40);
  box(2622, 397, 2811, 876, gray); t(2714, 614, 'ROW'); t(2714, 661, 'driver'); t(2845, 626, '...', 30);
  [437, 506, 574, 681, 750, 827].forEach(y => arrow([[2811, y], [2868, y]], 5));

  box(2303, 545, 2439, 733, gray); t(2365, 639, 'T-con');
  arrow([[2188, 640], [2303, 640]], 5); t(2242, 618, 'CT_D');
  arrow([[2439, 640], [2622, 640]]); t(2527, 618, 'ROW_SEL');
  arrow([[2441, 691], [2525, 691], [2525, 1038], [2928, 1038]]); t(2659, 1008, 'Coloum_SEL');
  arrow([[2188, 788], [2358, 788], [2358, 1115], [2925, 1115]], 7); t(2596, 1081, 'Data_out_E');
  box(2928, 1012, 3474, 1165, gray); t(3177, 1081, 'Column driver');
  [2970, 3035, 3099, 3294, 3368, 3433].forEach(x => arrow([[x, 1009], [x, 899]], 3));
  t(3189, 903, '...', 30);

  arrow([[1891, 968], [2031, 968]]); t(1961, 931, 'Power');
  box(2033, 923, 2197, 1010, gray); t(2114, 966, 'DC-DC');
  arrow([[2197, 963], [2325, 963]]); t(2268, 944, 'VCOM');
  box(2039, 1076, 2158, 1216, gray); t(2096, 1146, 'I2C');
  arrow([[1918, 1106], [2039, 1106]]); t(1967, 1085, 'SDA');
  arrow([[1914, 1188], [2039, 1188]]); t(1979, 1161, 'SCL');
  box(2188, 1128, 2364, 1240, gray); t(2277, 1163, 'Temp', 36); t(2275, 1201, 'sensor', 36);
  arrow([[2188, 1192], [2158, 1192]]);
  t(3470, 1235, 'Chip', 58, 'fill="#1F3A6E"');
}

// inset of panel b, coordinates taken as x,y on a 1568x1560 view of the inset area
const ix = d => +(320 + d / 1.153).toFixed(1);
const iy = d => +(1350 + d / 3).toFixed(1);
const ip = pts => pts.map(p => [ix(p[0]), iy(p[1])]);

function drawInset() {
  backSvg += `<defs><pattern id="hatch" width="7" height="7" patternUnits="userSpaceOnUse" patternTransform="rotate(45)"><rect width="7" height="7" fill="#fff"/><line x1="0" y1="0" x2="0" y2="7" stroke="#555" stroke-width="3"/></pattern></defs>`;
  const navy = '#12304F';
  const rect = (x1, y1, x2, y2, fill, sw, op) => {
    backSvg += `<rect x="${ix(x1)}" y="${iy(y1)}" width="${ix(x2) - ix(x1)}" height="${iy(y2) - iy(y1)}" fill="${fill}" stroke="${sw ? navy : 'none'}" stroke-width="${sw || 0}" ${op ? 'fill-opacity="' + op + '"' : ''}/>`;
  };
  rect(25, 83, 887, 1460, '#E3F3FB', 3);

  const w = (pts, sw) => line(ip(pts), sw || 3, '#1d1616');
  const pad = cy => {
    const pts = [[85, cy - 38], [147, cy - 38], [160, cy], [147, cy + 38], [85, cy + 38]];
    backSvg += `<polygon points="${ip(pts).map(p => p.join(',')).join(' ')}" fill="#C64F3A" stroke="#1d1616" stroke-width="3"/>`;
  };
  pad(458); pad(797); pad(1157);
  w([[160, 458], [285, 458], [285, 522], [318, 522], [318, 455], [445, 455]]);
  w([[285, 555], [318, 555]], 4); w([[300, 555], [300, 655], [208, 655], [208, 947], [308, 947], [308, 1058]]);
  w([[158, 797], [208, 797]]); w([[290, 1058], [324, 1058]], 4);
  w([[160, 1157], [293, 1157], [293, 1090], [323, 1090], [323, 1157], [445, 1157]]);
  w([[445, 327], [445, 576]]); w([[445, 327], [520, 327]], 4); w([[445, 576], [520, 576]], 4);
  w([[445, 1035], [445, 1278]]); w([[445, 1035], [520, 1035]], 4); w([[445, 1278], [520, 1278]], 4);
  [[265, 395], [510, 640], [970, 1100], [1215, 1345]].forEach(p => {
    w([[520, p[0]], [520, p[1]]]); w([[537, p[0]], [537, p[1]]]);
  });
  w([[537, 268], [572, 268], [572, 205]]); w([[537, 393], [572, 393], [572, 510], [537, 510]]); w([[537, 630], [570, 630], [570, 705]]);
  w([[537, 972], [570, 972], [570, 915]]); w([[537, 1097], [572, 1097], [572, 1217], [537, 1217]]); w([[537, 1340], [570, 1340], [570, 1405]]);
  w([[572, 452], [750, 452]], 4); w([[750, 380], [750, 510]]); w([[765, 380], [765, 510]]);
  w([[765, 383], [798, 383], [798, 320]]); w([[765, 505], [800, 505], [800, 1190]]); w([[775, 1192], [825, 1192]], 5);
  w([[653, 452], [653, 760], [387, 760], [385, 1157]]);
  w([[360, 455], [360, 853], [372, 853], [380, 832], [392, 832], [398, 853], [683, 853], [683, 1157], [572, 1157]]);
  const hd = (a, b) => head(ip([a])[0], ip([b])[0], 12, 7, '#1d1616');
  hd([318, 500], [318, 460]); hd([323, 1110], [323, 1152]);
  hd([570, 268], [537, 268]); hd([537, 630], [570, 630]); hd([570, 972], [537, 972]); hd([537, 1340], [570, 1340]); hd([798, 383], [765, 383]);
  const led = ip([[772, 780], [828, 780], [800, 900]]);
  backSvg += `<polygon points="${led.map(p => p.join(',')).join(' ')}" fill="#C64F3A" stroke="#1d1616" stroke-width="3"/>`;
  w([[775, 905], [828, 905]], 4);
  line(ip([[755, 850], [725, 960]]), 3, '#E60012'); head(ip([[755, 850]])[0], ip([[718, 982]])[0], 14, 5, '#E60012');
  line(ip([[775, 888], [745, 998]]), 3, '#E60012'); head(ip([[775, 888]])[0], ip([[738, 1020]])[0], 14, 5, '#E60012');

  [[122, 362, 'COL'], [119, 702, 'ROW'], [120, 1065, 'COL_N'], [297, 398, 'T1'], [306, 1220, 'T2'], [597, 343, 'T3'], [592, 585, 'T4'], [597, 1042, 'T5'], [597, 1292, 'T6'], [815, 453, 'T7'],
   [573, 160, 'VLED'], [793, 258, 'VLED'], [522, 905, 'VLED'], [592, 712, 'G'], [600, 1415, 'G'], [800, 1265, 'VCOM']].forEach(a => t(ix(a[0]), iy(a[1]), a[2], 28));
  t(ix(763), iy(712), 'Micro-LED', 28, 'fill="#E60012"');

  // layout view
  const hatch = 'url(#hatch)', lblue = '#8DA3CC', lgreen = '#A9CCB8', dark = '#1F4B6B', vio = '#27457E';
  rect(912, 78, 1543, 158, lblue);
  rect(935, 155, 1130, 415, hatch, 3); rect(1140, 155, 1207, 283, hatch, 3); rect(1135, 155, 1497, 183, hatch, 3);
  rect(925, 85, 1497, 155, hatch, 3); rect(912, 78, 1543, 158, lblue, 0, .65);
  rect(1217, 245, 1310, 320, hatch, 3); rect(1397, 245, 1490, 320, hatch, 3);
  rect(1130, 348, 1490, 420, hatch, 3);
  rect(955, 435, 975, 695, hatch, 3); rect(1013, 448, 1067, 845, hatch, 3); rect(985, 952, 1115, 1070, hatch, 3); rect(1017, 845, 1065, 1070, hatch, 3);
  rect(1190, 435, 1245, 690, hatch, 3); rect(1397, 435, 1452, 690, hatch, 3); rect(1190, 690, 1218, 1085, hatch, 3); rect(1425, 690, 1452, 1150, hatch, 3);
  rect(1312, 350, 1337, 680, hatch, 3); rect(1165, 1065, 1258, 1212, hatch, 3);
  rect(912, 1222, 1547, 1372, hatch, 3); rect(912, 1372, 1547, 1442, hatch, 3); rect(1312, 1150, 1337, 1355, hatch, 3);
  rect(1230, 822, 1452, 885, hatch, 3); rect(1205, 915, 1410, 985, hatch, 3);
  rect(1258, 1358, 1547, 1442, lblue, 0, .7); rect(1230, 822, 1305, 885, lblue, 0, .7); rect(1348, 915, 1410, 985, lblue, 0, .7);
  [[1143, 330, 1445, 428], [935, 330, 1060, 415], [1143, 420, 1188, 635], [1252, 630, 1297, 1200], [1348, 628, 1390, 1200], [965, 1148, 1170, 1220]].forEach(r => rect(r[0], r[1], r[2], r[3], lgreen, 0, .8));
  [[1013, 258, 1050, 515], [1217, 255, 1253, 515], [1388, 255, 1425, 515]].forEach(r => rect(r[0], r[1], r[2], r[3], vio, 0, .9));
  rect(1215, 683, 1425, 770, dark, 3); rect(1225, 1062, 1425, 1158, dark, 3); rect(985, 1070, 1115, 1310, dark, 3);
  rect(985, 1225, 1115, 1262, vio); rect(985, 1070, 1115, 1092, vio);
  rect(950, 695, 977, 828, lblue, 3); rect(1152, 498, 1177, 640, '#C7D8E5', 3); rect(1163, 1065, 1186, 1190, lgreen, 3); rect(935, 365, 990, 435, lgreen, 3);
  const contacts = [[938, 120], [975, 120], [1010, 120], [1048, 120], [1090, 120], [1130, 120], [1173, 120], [1214, 120], [1258, 120], [1305, 120], [1350, 120], [1393, 120], [1437, 120], [1482, 120],
    [1030, 295], [1233, 297], [1405, 297], [1030, 468], [1233, 458], [1407, 458], [950, 390], [977, 390], [1164, 525], [1164, 597], [963, 728], [963, 795], [1235, 725], [1323, 725], [1407, 725],
    [1248, 855], [1290, 855], [1358, 948], [1398, 948], [1173, 1092], [1173, 1160], [1248, 1108], [1323, 1108], [1403, 1105], [997, 1118], [1022, 1118], [1050, 1118], [1080, 1118], [1105, 1118],
    [997, 1280], [1022, 1280], [1050, 1280], [1080, 1280], [1105, 1280], [1287, 1392], [1315, 1392], [1343, 1392], [1373, 1392], [1408, 1392], [1438, 1392]];
  contacts.forEach(p => rect(p[0] - 8, p[1] - 16, p[0] + 8, p[1] + 16, '#8EA85C', 2));
  [[1235, 390, 'T1'], [1403, 390, 'T2'], [1272, 728, 'T4'], [1360, 728, 'T6'], [1285, 1115, 'T3'], [1367, 1110, 'T5'], [1048, 1185, 'T7']].forEach(a => t(ix(a[0]), iy(a[1]), a[2], 34, 'fill="#fff"'));
}

function drawFreeText() {
  const bold = 'font-weight="bold" fill="#231815"';
  ft(70, 87, 'a', 78, bold); ft(138, 1372, 'b', 78, bold); ft(1866, 1378, 'c', 78, bold); ft(134, 2575, 'd', 78, bold); ft(1918, 2577, 'e', 78, bold);

  ft(183, 1890, 'Pixel current (μA)', 42, 'transform="rotate(-90 183 1890)"');
  ft(1044, 2487, 'Grayscale', 50);
  ft(1895, 1880, 'DNL (LSB)', 60, 'fill="#000080" transform="rotate(-90 1895 1880)"');
  ft(3590, 1880, 'INL (LSB)', 60, 'fill="#7A0000" transform="rotate(-90 3590 1880)"');
  ft(2772, 2499, 'Grayscale', 50);
  ft(2715, 1873, 'DNL and INL both&lt;0.004 LSB', 55);

  ft(198, 3073, 'Count', 55, 'transform="rotate(-90 198 3073)"');
  ft(1024, 3650, 'Pixel current (μA)', 56);
  dXLabels.forEach((s, i) => ft(292 + i * 123.9, 3593, s, 41));
  frontSvg += `<g text-anchor="start"><text x="1337" y="2654" font-family='${SERIF}' font-size="46" dominant-baseline="central">Count = 200</text>`
    + `<text x="1337" y="2713" font-family='${SERIF}' font-size="46" dominant-baseline="central">Mean = 1.00045 uA</text>`
    + `<text x="1337" y="2772" font-family='${SERIF}' font-size="46" dominant-baseline="central">Std Dev = 687.268 pA</text>`
    + `<text x="446" y="3256" font-family='${SERIF}' font-size="42" dominant-baseline="central">3<tspan font-style="italic">σ</tspan>/<tspan font-style="italic">μ</tspan> = 0.2%</text></g>`;
  const sigma = 'font-weight="bold" fill="#808080" style="font-family:\'Liberation Sans\'"';
  [[610, '-3σ'], [789, '-2σ'], [901, '-σ'], [1358, 'σ'], [1559, '2σ'], [1696, '3σ']].forEach(a => ft(a[0], 3095, a[1], 44, sigma));

  ft(1940, 3105, 'Screen width (mm)', 50, 'transform="rotate(-90 1940 3105)"');
  ft(2699, 3705, 'Screen length (mm)', 50);
  ft(3705, 3099, 'Pixel current (μA)', 51, 'transform="rotate(-90 3705 3099)"');
  ft(2711, 3020, 'Pixel current deviation &lt;10%', 47, 'fill="#fff"');
  ft(2711, 3083, '@0.5 A full-screen current', 47, 'fill="#fff"');
}

drawBlockDiagram();
drawInset();
drawFreeText();
document.getElementById('back').innerHTML = backSvg;
document.getElementById('front').innerHTML = frontSvg;

initChartB();
initChartC();
initChartD();
initChartE();
initColorBar();
</script>
</body>
</html>
